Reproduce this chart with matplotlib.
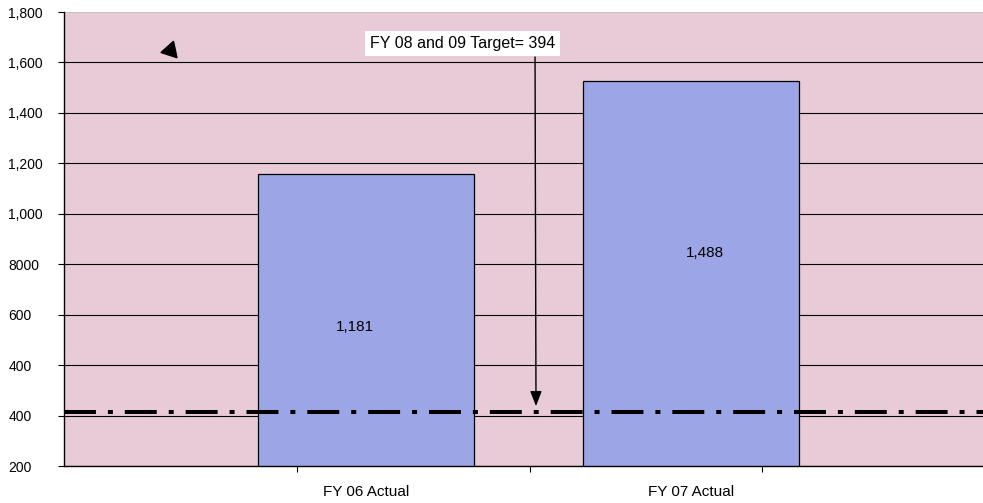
import numpy as np
import matplotlib
matplotlib.use("Agg")
import matplotlib.pyplot as plt

plt.rcParams['font.family'] = ['Liberation Sans', 'DejaVu Sans']
plt.rcParams['lines.scale_dashes'] = False

# Data
categories = ["FY 06 Actual", "FY 07 Actual"]
actuals = [1181, 1488]
bar_labels = ["1,181", "1,488"]
target = 394
target_text = "FY 08 and 09 Target= 394"
ytick_labels = ["200", "400", "400", "600", "8000", "1,000", "1,200", "1,400", "1,600", "1,800"]

pink = "#e9cbd8"
lavender = "#9ca6e6"

fig = plt.figure(figsize=(9.83, 5.03), dpi=100)
ax = fig.add_axes([64 / 983, 37 / 503, 919 / 983, 454 / 503])
ax.set_facecolor(pink)

x = np.arange(len(categories))
ax.bar(x, actuals, width=0.665, color=lavender, edgecolor="black", linewidth=0.9, zorder=2)

ymin, ymax = 214, 1717
ax.set_ylim(ymin, ymax)
ax.set_xlim(-0.929, 1.898)

yt = np.linspace(ymin, ymax, len(ytick_labels))
ax.set_yticks(yt)
ax.set_yticklabels(ytick_labels, fontsize=10)
ax.tick_params(axis="y", direction="out", length=4, width=0.8, pad=36)
for lbl in ax.get_yticklabels():
    lbl.set_horizontalalignment("left")

ax.yaxis.grid(True, color="black", linewidth=0.8, zorder=1)
ax.set_axisbelow(True)
ax.yaxis.get_gridlines()[-1].set_color("#c8c0c4")

ax.set_xticks(x)
ax.set_xticklabels(categories, fontsize=11)
ax.tick_params(axis="x", length=0, pad=14)
ax.set_xticks([-0.212, 0.505, 1.218], minor=True)
ax.tick_params(axis="x", which="minor", length=4, width=0.8, direction="out")

for side in ["top", "right"]:
    ax.spines[side].set_visible(False)
ax.spines["left"].set_linewidth(1.0)
ax.spines["bottom"].set_linewidth(1.0)

# Bar value labels
ax.text(x[0] - 0.034, 674, bar_labels[0], ha="center", va="center", fontsize=11, zorder=4)
ax.text(x[1] + 0.043, 919, bar_labels[1], ha="center", va="center", fontsize=11, zorder=4)

# Target line
ax.axhline(target, color="black", linewidth=2.9,
           linestyle=(0, (23, 8.6, 3.6, 8.6)), dash_capstyle="butt", zorder=3)

# Target callout
ax.text(0.012, 1612, target_text, ha="left", va="center", fontsize=11.5, zorder=5,
        bbox=dict(boxstyle="square,pad=0.3", facecolor="white", edgecolor="none"))
ax.annotate("", xy=(0.523, target), xytext=(0.52, 1568),
            arrowprops=dict(arrowstyle="-|>,head_length=0.9,head_width=0.35",
                            color="black", linewidth=1.0, shrinkA=0, shrinkB=4),
            zorder=5)

# Small stray arrowhead in the upper-left
ax.plot([0.115], [0.916], marker=(3, 0, -18), markersize=14, color="black",
        transform=ax.transAxes, clip_on=False, zorder=5)

fig.savefig("out.png", dpi=100)
